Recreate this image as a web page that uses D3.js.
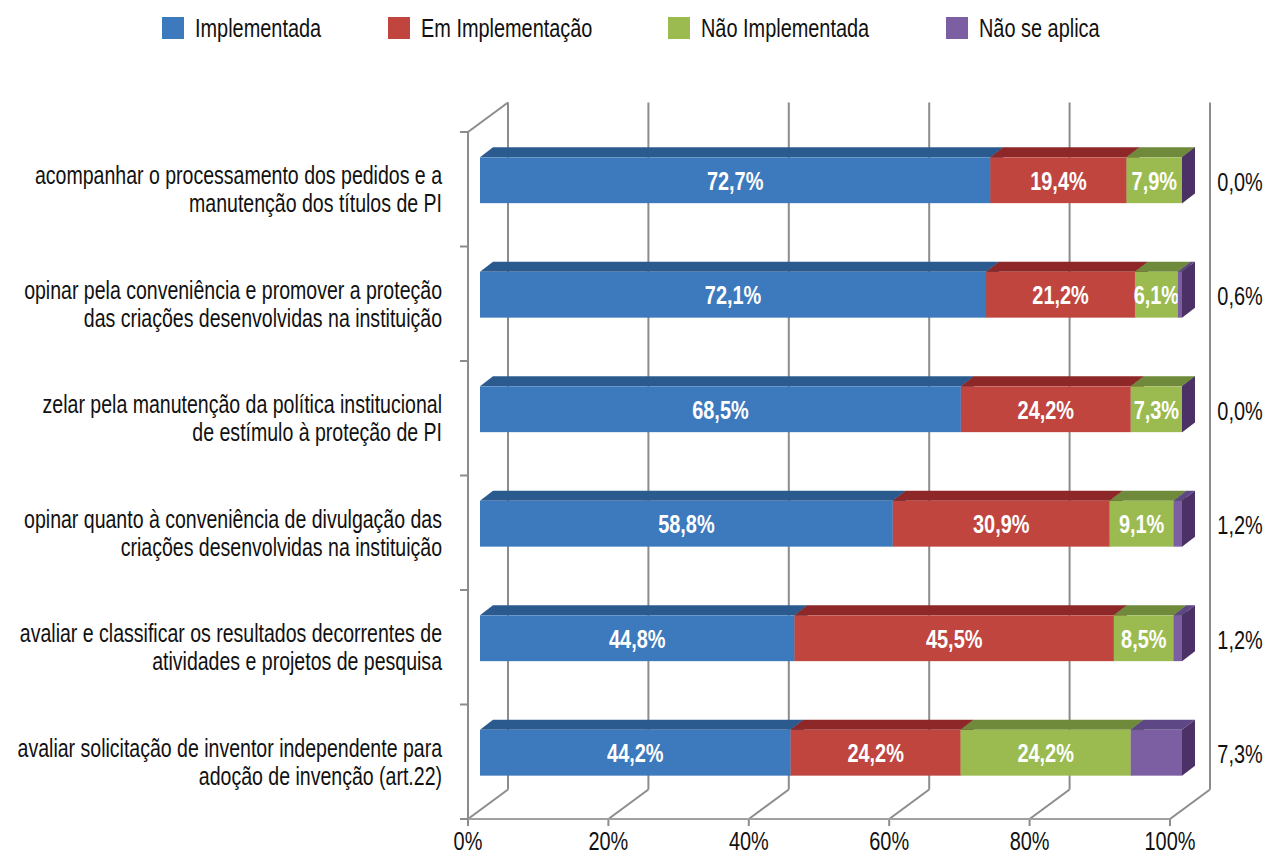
<!DOCTYPE html>
<html>
<head>
<meta charset="utf-8">
<style>
body { margin: 0; background: #fff; }
svg text { font-family: "Liberation Sans", Arial, sans-serif; }
.grid line { stroke: #8c8c8c; stroke-width: 2px; }
</style>
</head>
<body>
<svg width="1266" height="856"></svg>
<script src="https://cdn.jsdelivr.net/npm/d3@7"></script>
<script>
// data
var categories = [
  ["acompanhar o processamento dos pedidos e a", "manutenção dos títulos de PI"],
  ["opinar pela conveniência e promover a proteção", "das criações desenvolvidas na instituição"],
  ["zelar pela manutenção da política institucional", "de estímulo à proteção de PI"],
  ["opinar quanto à conveniência de divulgação das", "criações desenvolvidas na instituição"],
  ["avaliar e classificar os resultados decorrentes de", "atividades e projetos de pesquisa"],
  ["avaliar solicitação de inventor independente para", "adoção de invenção (art.22)"]
];
var implementada     = [72.7, 72.1, 68.5, 58.8, 44.8, 44.2];
var emImplementacao  = [19.4, 21.2, 24.2, 30.9, 45.5, 24.2];
var naoImplementada  = [7.9, 6.1, 7.3, 9.1, 8.5, 24.2];
var naoSeAplica      = [0.0, 0.6, 0.0, 1.2, 1.2, 7.3];
var seriesNames = ["Implementada", "Em Implementação", "Não Implementada", "Não se aplica"];
var xTicks = [0, 20, 40, 60, 80, 100];

var frontColors = ["#3d79bd", "#c0453f", "#9bbb51", "#7c5fa2"];
var topColors   = ["#2b5b8e", "#8e2727", "#6f8a3a", "#5e4785"];
var sideColors  = ["#2a4f7c", "#7a2020", "#5d7630", "#4b3165"];

var svg = d3.select("svg");
var fmt = function(v) { return d3.format(".1f")(v).replace(".", ",") + "%"; };
var narrow = 0.766; // no condensed font installed, squeeze horizontally
function place(fx, fy) {
  return function(d, i) { return "translate(" + fx(d, i) + "," + fy(d, i) + ") scale(" + narrow + ",1)"; };
}

var x = d3.scaleLinear().domain([0, 100]).range([468, 1170]);
var y = d3.scaleBand().domain(d3.range(categories.length)).range([132, 819]);

var depth = [40, -29.5];       // full wall depth
var barFront = [12, -9];       // bar front plane offset
var barBack = [25, -19];       // bar back plane offset
var barH = y.bandwidth() * 0.4;

var series = [implementada, emImplementacao, naoImplementada, naoSeAplica];
var rows = categories.map(function(c, i) {
  var total = d3.sum(series, function(s) { return s[i]; });
  var acc = 0;
  return series.map(function(s, k) {
    var v = s[i] / total * 100;
    var seg = { row: i, k: k, value: s[i], x0: acc, x1: acc + v };
    acc += v;
    return seg;
  });
});

// legend
var legendX = [162, 388, 668, 946];
var legend = svg.append("g").selectAll("g")
  .data(seriesNames)
  .enter().append("g")
    .attr("transform", function(d, i) { return "translate(" + legendX[i] + ",17)"; });
legend.append("rect").attr("width", 22).attr("height", 22)
  .attr("fill", function(d, i) { return frontColors[i]; });
legend.append("text").attr("dy", "0.36em")
  .attr("transform", place(function() { return 33; }, function() { return 11; }))
  .style("font-size", "26px").attr("fill", "#111")
  .text(function(d) { return d; });

// walls and grid
var grid = svg.append("g").attr("class", "grid");
var y0 = y.range()[0], y1 = y.range()[1];
grid.selectAll(".back").data(xTicks).enter().append("line")
  .attr("x1", function(d) { return x(d) + depth[0]; })
  .attr("x2", function(d) { return x(d) + depth[0]; })
  .attr("y1", y0 + depth[1]).attr("y2", y1 + depth[1]);
grid.selectAll(".floor").data(xTicks).enter().append("line")
  .attr("x1", function(d) { return x(d); })
  .attr("x2", function(d) { return x(d) + depth[0]; })
  .attr("y1", y1).attr("y2", y1 + depth[1]);
grid.selectAll(".tick").data(xTicks).enter().append("line")
  .attr("x1", function(d) { return x(d); })
  .attr("x2", function(d) { return x(d); })
  .attr("y1", y1).attr("y2", y1 + 7);
grid.append("line").attr("x1", x(0)).attr("x2", x(100)).attr("y1", y1).attr("y2", y1)
  .style("stroke", "#a0a0a0");
grid.append("line").attr("x1", x(0)).attr("x2", x(0)).attr("y1", y0).attr("y2", y1);
grid.append("line").attr("x1", x(0)).attr("x2", x(0) + depth[0])
  .attr("y1", y0).attr("y2", y0 + depth[1]);
grid.selectAll(".ytick").data(d3.range(categories.length + 1)).enter().append("line")
  .attr("x1", x(0) - 8).attr("x2", x(0))
  .attr("y1", function(d) { return y0 + d * y.step(); })
  .attr("y2", function(d) { return y0 + d * y.step(); });

// x axis labels
svg.append("g").selectAll("text").data(xTicks).enter().append("text")
  .attr("transform", place(function(d) { return x(d); }, function() { return 841; }))
  .attr("dy", "0.36em")
  .attr("text-anchor", "middle")
  .style("font-size", "26px").attr("fill", "#111")
  .text(function(d) { return d + "%"; });

// category labels
var cat = svg.append("g").selectAll("text").data(categories).enter().append("text")
  .attr("text-anchor", "end")
  .style("font-size", "25.5px").attr("fill", "#111")
  .attr("transform", place(function() { return 442; }, function(d, i) { return y(i) + y.bandwidth() / 2; }));
cat.selectAll("tspan").data(function(d) { return d; }).enter().append("tspan")
  .attr("x", 0)
  .attr("y", function(d, j) { return (j - 0.5) * 28; })
  .attr("dy", "0.36em")
  .text(function(d) { return d; });

// bars
function barTop(i) { return y(i) + (y.bandwidth() - barH) / 2 + barFront[1]; }
function pts(p) { return p.map(function(q) { return q.join(","); }).join(" "); }

var rowG = svg.append("g").selectAll("g").data(rows).enter().append("g");
var seg = rowG.selectAll("g").data(function(d) { return d; }).enter().append("g");

seg.append("polygon") // top face
  .attr("fill", function(d) { return topColors[d.k]; })
  .attr("points", function(d) {
    var t = barTop(d.row), xa = x(d.x0) + barFront[0], xb = x(d.x1) + barFront[0];
    var dx = barBack[0] - barFront[0], dy = barBack[1] - barFront[1];
    return pts([[xa, t], [xb, t], [xb + dx, t + dy], [xa + dx, t + dy]]);
  });
seg.append("polygon") // right side face
  .attr("fill", function(d) { return sideColors[d.k]; })
  .attr("points", function(d) {
    var t = barTop(d.row), xb = x(d.x1) + barFront[0];
    var dx = barBack[0] - barFront[0], dy = barBack[1] - barFront[1];
    return pts([[xb, t], [xb + dx, t + dy], [xb + dx, t + barH + dy], [xb, t + barH]]);
  });
seg.append("rect") // front face
  .attr("fill", function(d) { return frontColors[d.k]; })
  .attr("x", function(d) { return x(d.x0) + barFront[0]; })
  .attr("width", function(d) { return x(d.x1) - x(d.x0); })
  .attr("y", function(d) { return barTop(d.row); })
  .attr("height", barH);

// labels inside bars
seg.filter(function(d) { return d.k < 3; }).append("text")
  .attr("transform", place(
    function(d) { return (x(d.x0) + x(d.x1)) / 2 + barFront[0]; },
    function(d) { return barTop(d.row) + barH / 2; }))
  .attr("dy", "0.36em")
  .attr("text-anchor", "middle")
  .attr("fill", "#fff")
  .style("font-size", "26px").style("font-weight", "bold")
  .text(function(d) { return fmt(d.value); });

// "Não se aplica" values to the right
svg.append("g").selectAll("text").data(naoSeAplica).enter().append("text")
  .attr("transform", place(function() { return 1240; }, function(d, i) { return barTop(i) + barH / 2 + 1; }))
  .attr("dy", "0.36em")
  .attr("text-anchor", "middle")
  .style("font-size", "26px").attr("fill", "#111")
  .text(function(d) { return fmt(d); });
</script>
</body>
</html>
